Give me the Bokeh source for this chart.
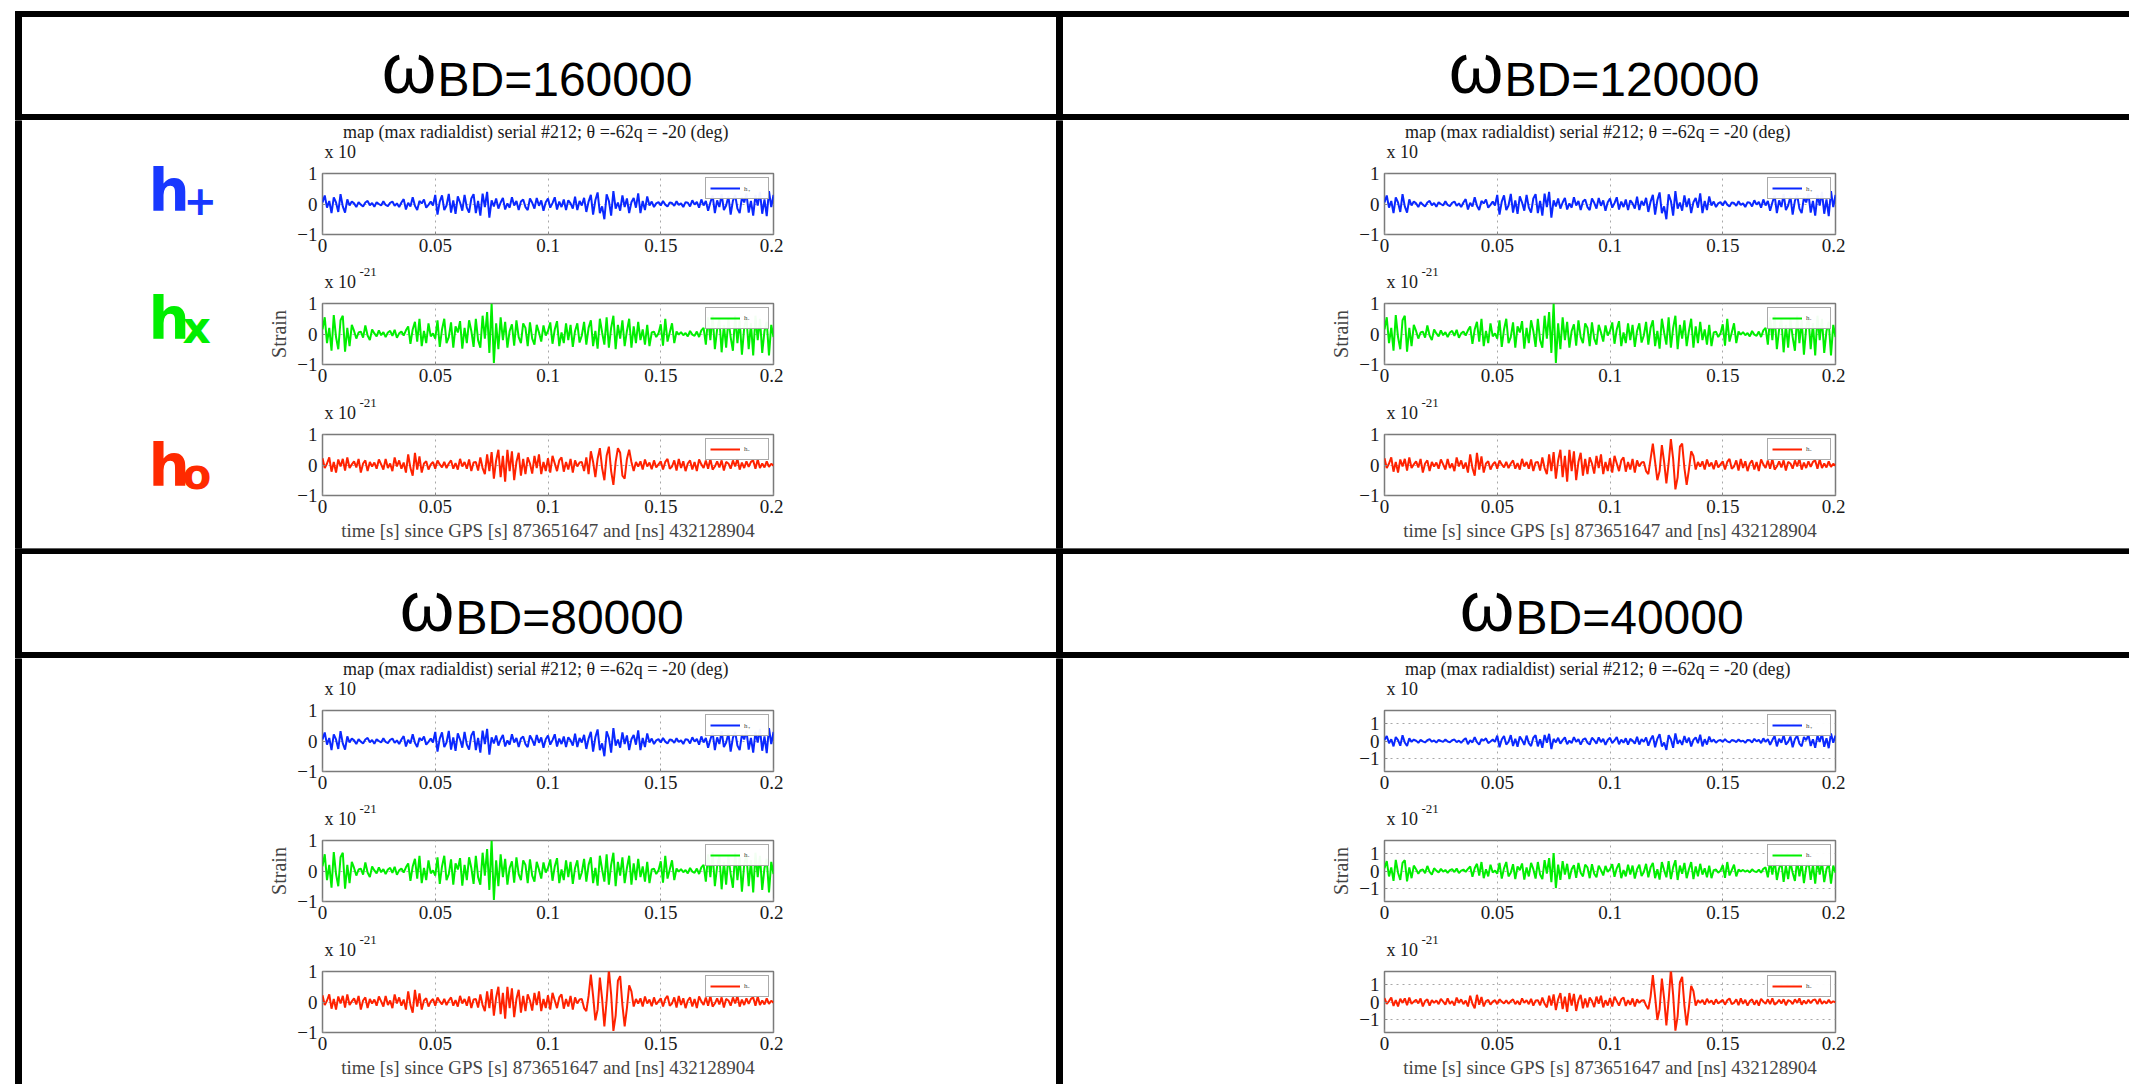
from bokeh.plotting import figure
from bokeh.layouts import row, column
from bokeh.models import Range1d, Label, FixedTicker
from bokeh.embed import file_html
from bokeh.resources import INLINE

W, H = 2129, 1084

# ---------------- data (units of 1e-21 strain, 1 ms samples from t=0 to 0.2 s) ----------------
t_step = 0.001

h_plus = [
    0.05, 0.28, -0.12, 0.1, -0.3, 0.22, 0.05, -0.26, 0.32, -0.08,
    -0.28, 0.15, -0.05, 0.08, 0.02, -0.1, 0.06, -0.02, -0.08, 0.05,
    0.1, -0.04, 0.03, -0.09, 0.06, 0.0, -0.05, 0.09, -0.03, -0.07,
    0.04, 0.08, -0.06, 0.02, -0.1, 0.05, 0.16, -0.18, 0.04, -0.08,
    0.22, -0.06, -0.2, 0.1, 0.02, 0.15, -0.12, -0.03, 0.08, -0.05,
    0.3, -0.35, 0.08, 0.28, -0.2, -0.05, 0.33, -0.28, 0.12, -0.32,
    0.25, 0.05, -0.22, 0.3, -0.12, -0.28, 0.18, 0.32, -0.3, 0.1,
    -0.38, 0.34, -0.1, 0.4, -0.45, 0.12, -0.08, 0.18, -0.15, 0.05,
    0.2, -0.18, 0.02, -0.12, 0.22, -0.05, 0.1, -0.2, 0.08, 0.15,
    -0.1, -0.2, 0.18, 0.04, -0.15, 0.2, -0.06, 0.12, -0.22, 0.06,
    0.18, -0.12, 0.03, 0.22, -0.18, 0.08, -0.1, 0.15, -0.2, 0.12,
    0.02, -0.15, 0.24, -0.2, 0.1, -0.05, 0.2, -0.26, 0.08, 0.3,
    -0.35, 0.12, 0.38, -0.3, -0.08, -0.5, 0.32, 0.1, -0.38, 0.42,
    -0.15, 0.05, -0.22, 0.28, -0.1, 0.18, -0.3, 0.06, 0.2, -0.12,
    0.35, -0.3, 0.1, -0.2, 0.25, -0.05, 0.08, -0.1, 0.02, 0.06,
    -0.05, 0.1, -0.02, -0.08, 0.05, 0.03, -0.06, 0.09, -0.03, 0.02,
    -0.1, 0.06, 0.04, -0.08, 0.12, -0.02, 0.07, -0.12, 0.15, -0.05,
    0.1, -0.22, 0.05, 0.28, -0.3, 0.12, -0.1, 0.32, -0.2, -0.05,
    0.25, -0.35, 0.1, 0.3, -0.15, -0.3, 0.22, 0.05, 0.34, -0.28,
    0.1, -0.38, 0.3, -0.05, 0.4, -0.32, 0.15, -0.4, 0.42, -0.1,
    0.3,
]

h_cross = [
    0.15, 0.55, -0.3, 0.2, -0.55, 0.62, -0.1, -0.5, 0.45, 0.6,
    -0.58, 0.2, -0.4, 0.3, 0.1, -0.15, 0.05, 0.08, -0.12, 0.28,
    -0.05, -0.2, 0.15, 0.02, -0.08, 0.12, -0.04, 0.06, -0.1, 0.05,
    0.1, -0.06, 0.14, -0.12, 0.02, 0.08, -0.05, 0.12, 0.25, -0.32,
    0.15, 0.4, -0.25, 0.5, -0.4, 0.1, -0.3, 0.35, -0.08, 0.02,
    -0.15, 0.45, -0.42, 0.15, 0.5, -0.3, -0.1, 0.38, -0.45, 0.25,
    0.05, 0.42, -0.48, 0.2, -0.3, 0.45, 0.1, -0.42, 0.5, -0.2,
    -0.45, 0.6, -0.15, 0.72, -0.62, 1.0, -0.95, 0.35, -0.5, 0.55,
    -0.2, 0.4, -0.45, 0.1, 0.32, -0.38, 0.45, -0.1, -0.3, 0.35,
    0.2, -0.4, 0.38, -0.15, -0.35, 0.3, 0.05, -0.25, 0.28, -0.05,
    0.1, 0.38, -0.32, 0.15, 0.42, -0.4, 0.05, -0.3, 0.35, -0.2,
    0.3, -0.42, 0.1, 0.35, -0.28, -0.05, 0.4, -0.35, 0.2, 0.45,
    -0.4, 0.1, -0.48, 0.5, 0.05, -0.35, 0.55, -0.45, 0.2, 0.6,
    -0.5, 0.3, -0.15, 0.45, -0.4, 0.1, 0.5, -0.45, 0.25, -0.3,
    0.4, -0.2, 0.15, -0.35, 0.3, -0.4, 0.05, 0.08, -0.1, 0.02,
    0.32, -0.38, 0.5, -0.25, 0.05, 0.35, -0.3, 0.08, -0.02, 0.06,
    -0.04, 0.03, -0.08, 0.1, -0.02, -0.06, 0.08, -0.1, 0.12, 0.2,
    -0.35, 0.55, -0.2, 0.62, -0.5, 0.15, 0.5, -0.6, 0.3, -0.45,
    0.5, -0.1, -0.55, 0.6, -0.3, 0.45, -0.68, 0.2, 0.55, -0.5,
    0.35, -0.7, 0.6, -0.2, 0.5, -0.62, 0.1, 0.4, -0.7, 0.3,
    -0.1,
]

# h_o : samples 0..114 (before the burst), burst 115..140 (depends on omega_BD), 141..200 after
h_o_pre = [
    0.22, -0.1, 0.05, 0.25, -0.22, 0.1, -0.25, 0.18, -0.05, 0.2,
    -0.18, 0.25, -0.1, 0.02, 0.12, -0.08, 0.2, -0.25, 0.05, 0.15,
    -0.2, 0.1, -0.05, 0.08, -0.12, 0.18, 0.02, -0.15, 0.2, -0.1,
    0.05, -0.2, 0.25, -0.05, 0.15, -0.12, 0.08, -0.25, 0.35, -0.1,
    -0.35, 0.4, -0.15, 0.28, -0.25, 0.05, 0.12, -0.15, 0.02, 0.1,
    -0.12, 0.15, 0.02, -0.08, 0.1, -0.1, 0.05, 0.15, -0.12, 0.06,
    -0.15, 0.2, -0.05, 0.1, -0.12, 0.18, -0.2, 0.08, 0.1, -0.18,
    0.25, -0.1, -0.3, 0.35, -0.2, 0.42, -0.45, 0.15, 0.5, -0.4,
    0.3, -0.55, 0.5, -0.2, 0.45, -0.5, 0.1, 0.4, -0.35, 0.2,
    -0.3, 0.25, 0.05, -0.28, 0.3, -0.1, 0.35, -0.3, 0.1, -0.2,
    0.22, -0.25, 0.3, 0.05, -0.2, 0.15, 0.25, -0.22, 0.1, -0.15,
    0.2, -0.25, 0.15, -0.05, 0.08,
]
h_o_post = [
    0.12, -0.15, 0.18, -0.05, 0.08, -0.14, 0.15, -0.08, 0.02, 0.12,
    -0.15, 0.1, 0.2, -0.12, -0.05, 0.15, -0.18, 0.2, -0.1, 0.12,
    -0.2, 0.05, 0.15, -0.15, 0.1, -0.2, 0.18, 0.02, -0.1, 0.15,
    -0.12, 0.2, -0.15, -0.05, 0.12, -0.08, 0.15, -0.18, 0.1, 0.05,
    -0.12, 0.15, -0.05, 0.2, -0.15, 0.08, -0.1, 0.12, -0.06, 0.1,
    0.15, -0.12, 0.18, -0.1, 0.05, -0.08, 0.12, -0.06, 0.04, -0.02,
]
burst_160000 = [0.1, -0.2, 0.25, -0.3, 0.45, 0.1, -0.4, 0.2, 0.55, -0.1, -0.5, 0.3, 0.6,
                -0.2, -0.65, 0.1, 0.55, 0.4, -0.35, -0.45, 0.2, 0.5, 0.1, -0.2, 0.1, -0.05]
burst_120000 = [0.1, -0.2, -0.3, 0.2, 0.7, 0.1, -0.5, -0.2, 0.65, 0.1, -0.6, 0.05, 0.85,
                0.2, -0.8, -0.4, 0.6, 0.7, -0.1, -0.65, -0.15, 0.45, 0.3, -0.15, 0.1, -0.05]
burst_80000 = [0.1, -0.2, -0.3, 0.2, 0.9, 0.2, -0.6, -0.25, 0.8, 0.1, -0.8, 0.05, 1.05,
               0.25, -0.95, -0.45, 0.7, 0.85, -0.1, -0.8, -0.2, 0.55, 0.35, -0.15, 0.1, -0.05]
burst_40000 = [0.1, -0.2, -0.4, 0.3, 1.5, 0.3, -1.0, -0.4, 1.3, 0.2, -1.3, 0.1, 1.8,
               0.4, -1.6, -0.8, 1.1, 1.4, -0.2, -1.3, -0.3, 0.9, 0.6, -0.2, 0.1, -0.05]

omega_values = [160000, 120000, 80000, 40000]
bursts = [burst_160000, burst_120000, burst_80000, burst_40000]
y_limits = [1.0, 1.0, 1.0, 1.7]

x_ticks = [0, 0.05, 0.1, 0.15, 0.2]
x_tick_labels = ["0", "0.05", "0.1", "0.15", "0.2"]
y_ticks = [-1, 0, 1]

legend_names = ["h\u208a", "h\u2093", "h\u2092"]
side_subscripts = ["+", "x", "o"]
series_colors = ["#0a28ff", "#00ee00", "#ff2200"]
label_colors = ["#1838ff", "#00ee00", "#ff2a00"]
title_text = "map (max radialdist) serial #212;  \u03b8 =-62q = -20 (deg)"
xlabel_text = "time [s] since GPS [s] 873651647 and [ns] 432128904"
ylabel_text = "Strain"

# ---------------- layout constants ----------------
SERIF = "Liberation Serif"
BL, BR, FW, FH, TB = 80, 10, 451, 61, 11
COLW = BL + FW + BR
X1 = 322 - BL          # start of first plot column
X2 = 1384 - BL         # start of second plot column
MID = 0.34             # text 'middle' anchor sits this many em above the baseline


def bg(x0, x1, y0, y1, bl=0, br=0):
    p = figure(width=x1 - x0, height=y1 - y0, x_range=Range1d(x0 + bl, x1 - br), y_range=Range1d(y1, y0),
               x_axis_location=None, y_axis_location=None, toolbar_location=None,
               output_backend="svg", min_border=0, min_border_left=bl, min_border_right=br,
               outline_line_color=None)
    p.grid.visible = False
    return p


def text(p, x, base, s, size, font, color="#1a1a1a", align="left", style="normal"):
    p.add_layout(Label(x=x, y=base - MID * size, text=s, text_align=align, text_baseline="middle",
                       text_font=font, text_font_size="%dpx" % size, text_font_style=style,
                       text_color=color))


def vlines(p, y0, y1):
    for xl in (15, 1056):
        if p.x_range.start <= xl < p.x_range.end:
            p.quad(left=xl, right=xl + 6, top=y0, bottom=y1, color="black")


def small_plot(y, ci, ylim, bb, last):
    t = [round(i * t_step, 4) for i in range(len(y))]
    p = figure(width=COLW, height=TB + FH + bb, x_range=Range1d(0, 0.2), y_range=Range1d(-ylim, ylim),
               min_border_left=BL, min_border_right=BR, min_border_top=TB, min_border_bottom=bb,
               toolbar_location=None, output_backend="svg",
               outline_line_color="#7a7a7a", outline_line_width=1.5)
    p.line(t, y, line_color=series_colors[ci], line_width=2, legend_label=legend_names[ci])
    p.xaxis.ticker = FixedTicker(ticks=x_ticks)
    p.xaxis.major_label_overrides = dict(zip(x_ticks, x_tick_labels))
    p.yaxis.ticker = FixedTicker(ticks=y_ticks)
    for ax in (p.xaxis[0], p.yaxis[0]):
        ax.major_label_text_font = SERIF
        ax.major_label_text_font_size = "19px"
        ax.major_label_text_color = "#1a1a1a"
        ax.axis_line_color = None
        ax.major_tick_in = 3
        ax.major_tick_out = 0
        ax.major_tick_line_color = "#8a8a8a"
        ax.minor_tick_line_color = None
    p.xaxis.major_label_standoff = 4
    p.yaxis.major_label_standoff = 5
    p.grid.grid_line_dash = "dotted"
    p.grid.grid_line_color = "#a8a8a8"
    if ci == 1:
        p.yaxis.axis_label = ylabel_text
        p.yaxis.axis_label_text_font = SERIF
        p.yaxis.axis_label_text_font_size = "20px"
        p.yaxis.axis_label_text_font_style = "normal"
        p.yaxis.axis_label_standoff = 4
    if last:
        p.xaxis.axis_label = xlabel_text
        p.xaxis.axis_label_text_font = SERIF
        p.xaxis.axis_label_text_font_size = "19px"
        p.xaxis.axis_label_text_font_style = "normal"
        p.xaxis.axis_label_standoff = 4
    leg = p.legend[0]
    leg.location = "top_right"
    leg.margin = 4
    leg.padding = 4
    leg.spacing = 0
    leg.glyph_width = 30
    leg.glyph_height = 12
    leg.label_height = 12
    leg.label_standoff = 4
    leg.label_text_font = SERIF
    leg.label_text_font_size = "7px"
    leg.border_line_color = "#555555"
    leg.border_line_width = 1
    return p


def strip(xc, y0, frame_top, with_title):
    # text band above a small plot; its frame spans exactly the plot's frame width
    s = bg(xc, xc + COLW, y0, frame_top - TB, bl=BL, br=BR)
    fl = xc + BL
    text(s, fl + 2, frame_top - 15, "x 10", 18, SERIF)
    if with_title:
        text(s, fl + FW / 2 - 10, frame_top - 35, title_text, 18, SERIF, align="center")
    else:
        text(s, fl + 37, frame_top - 27, "-21", 13, SERIF)
    return s


def plot_column(k, xc, y0, frames, y_end):
    red = h_o_pre + bursts[k] + h_o_post
    series = [h_plus, h_cross, red]
    items = []
    cur = y0
    for ci, ft in enumerate(frames):
        items.append(strip(xc, cur, ft, ci == 0))
        last = ci == 2
        bb = (y_end - (ft + FH)) if last else 30
        items.append(small_plot(series[ci], ci, y_limits[k], bb, last))
        cur = ft + FH + bb
    return column(*items)


def header_row(y0, y1, omegas, base, splits):
    p = bg(0, W, y0, y1)
    top_b = y0 + (11 if y0 == 0 else 0)
    p.quad(left=15, right=W, top=top_b, bottom=top_b + 5, color="black")
    p.quad(left=15, right=W, top=y1 - 6, bottom=y1 - 1, color="black")
    vlines(p, top_b, y1)
    for om, sx in zip(omegas, splits):
        text(p, sx, base - 3, "\u03c9", 70, "Liberation Sans", color="black", align="right")
        text(p, sx + 1, base, "BD=%d" % om, 48, "Liberation Sans", color="black")
    return p


def content_row(y0, y1, ks, frames, with_labels):
    left = bg(0, X1, y0, y1)
    vlines(left, y0, y1)
    if with_labels:
        specs = [(210, 213, 40, 183), (338, 342, 44, 182), (485, 488, 42, 182)]
        for ci, (base, sbase, ssize, sx) in enumerate(specs):
            text(left, 148, base, "h", 58, "DejaVu Sans", color=label_colors[ci], style="bold")
            text(left, sx, sbase, side_subscripts[ci], ssize, "DejaVu Sans", color=label_colors[ci],
                 style="bold")
    mid = bg(X1 + COLW, X2, y0, y1)
    vlines(mid, y0, y1)
    right = bg(X2 + COLW, W, y0, y1)
    return row(left, plot_column(ks[0], X1, y0, frames, y1), mid,
               plot_column(ks[1], X2, y0, frames, y1), right)


rowA = header_row(0, 120, omega_values[0:2], 95, [436, 1503])
rowB = content_row(120, 548, (0, 1), [173, 303, 434], True)
rowC = header_row(548, 658, omega_values[2:4], 633, [454, 1514])
rowD = content_row(658, 1084, (2, 3), [710, 840, 971], False)

layout = column(rowA, rowB, rowC, rowD)
open("out.html", "w").write(file_html(layout, INLINE))
